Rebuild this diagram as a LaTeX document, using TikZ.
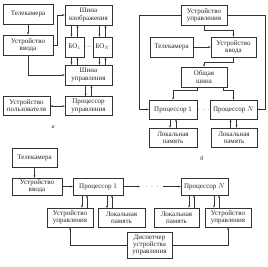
\documentclass[tikz,border=0pt]{standalone}
\usepackage{fontspec}
\setmainfont{Liberation Serif}
\usetikzlibrary{arrows.meta,calc}

\begin{document}
\begin{tikzpicture}[
  x=1.5pt, y=-1.5pt,
  font=\fontsize{10.5}{10.8}\selectfont,
  >={Stealth[length=3.8pt,width=2.8pt]},
  blk/.style={rectangle, draw=black!80, line width=0.7pt, align=center,
              inner sep=1pt, minimum height=30pt, text=black!85},
  lnk/.style={draw=black!80, line width=0.7pt},
  tag/.style={font=\fontsize{9}{10}\selectfont\itshape, text=black!85},
]
\useasboundingbox (0,0) rectangle (268,267);

% ===== Panel a =====
\node[blk, minimum width=75pt] (cam_a) at (28,14) {Телекамера};
\node[blk, minimum width=75pt] (in_a) at (28,45) {Устройство\\ввода};
\node[blk, minimum width=70.5pt] (busimg) at (88.5,15) {Шина\\изображения};
\node[blk, minimum width=28.5pt] (bo1) at (74.5,47) {БО$_1$};
\node[blk, minimum width=28.5pt] (boN) at (102.5,47) {БО$_N$};
\node (dots_a) at (88.5,47) {$\cdot\!\cdot\!\cdot$};
\node[blk, minimum width=70.5pt] (busctl) at (88.5,75) {Шина\\управления};
\node[blk, minimum width=70.5pt, minimum height=28.5pt] (procctl) at (88.5,106) {Процессор\\управления};
\node[blk, minimum width=70.5pt, minimum height=28.5pt] (user) at (26.5,106) {Устройство\\пользователя};
\node[tag] (tag_a) at (53,127) {а};

\draw[lnk,->] (cam_a) -- (in_a);
\draw[lnk,->] (in_a.east) -- ++(4,0) |- (busimg.west);
\draw[lnk,->] (in_a.south) |- (busctl.west);
\draw[lnk,<->] (user) -- (procctl);

% ===== Panel b =====
\node[blk, minimum width=69pt] (ctl_b) at (204,15) {Устройство\\управления};
\node[blk, minimum width=64.5pt] (cam_b) at (171.5,47) {Телекамера};
\node[blk, minimum width=67.5pt] (in_b) at (233.5,47) {Устройство\\ввода};
\node[blk, minimum width=69pt] (bus_b) at (204,77) {Общая\\шина};
\node[blk, minimum width=72pt, minimum height=28.5pt] (p1_b) at (173,109.5) {Процессор 1};
\node[blk, minimum width=70.5pt, minimum height=28.5pt] (pN_b) at (233.5,109.5) {Процессор $N$};
\node (dots_b) at (203.5,109.5) {$\cdot\,\cdot\,\cdot$};
\node[blk, minimum width=72pt, minimum height=28.5pt] (mem1_b) at (173,137.5) {Локальная\\память};
\node[blk, minimum width=69pt, minimum height=28.5pt] (memN_b) at (234,137.5) {Локальная\\память};
\node[tag] (tag_b) at (202,158) {б};

\draw[lnk,->] (ctl_b.south) -- ++(0,5) -| (in_b.north);
\draw[lnk,->] (cam_b.east) -- (in_b.west);
\draw[lnk,->] (in_b.south) -- ++(0,5) -| (bus_b.north);
\draw[lnk,->] ([xshift=-10.5pt]bus_b.south) -- ++(0,3) -| (p1_b.north);
\draw[lnk,->] ([xshift=28.5pt]bus_b.south) -- ++(0,3) -| (pN_b.north);
\draw[lnk,->] (ctl_b.west) -- ++(-42,0) |- (p1_b.west);
\draw[lnk,->] (ctl_b.east) -- ++(38,0) |- (pN_b.east);

% ===== Panel c =====
\node[blk, minimum width=67.5pt, minimum height=28.5pt] (cam_c) at (34.5,157.5) {Телекамера};
\node[blk, minimum width=75pt, minimum height=25.5pt] (in_c) at (37,186.5) {Устройство\\ввода};
\node[blk, minimum width=75pt, minimum height=25.5pt] (p1_c) at (98,186.5) {Процессор 1};
\node[blk, minimum width=70.5pt, minimum height=25.5pt] (pN_c) at (204.5,186.5) {Процессор $N$};
\coordinate (gap1) at (140,186.5);
\node (dots_c) at (152,186.5) {$\cdot\;\cdot\;\cdot$};
\coordinate (gap2) at (163,186.5);
\node[blk, minimum width=69pt, minimum height=28.5pt] (ctl1_c) at (70,217.5) {Устройство\\управления};
\node[blk, minimum width=70.5pt, minimum height=28.5pt] (mem1_c) at (121.5,218) {Локальная\\память};
\node[blk, minimum width=67.5pt, minimum height=28.5pt] (memN_c) at (176.5,217.5) {Локальная\\память};
\node[blk, minimum width=69pt, minimum height=28.5pt] (ctlN_c) at (228,217.5) {Устройство\\управления};
\node[blk, minimum width=67.5pt, minimum height=39pt] (disp) at (149.5,245) {Диспетчер\\устройства\\управления};

\draw[lnk,->] (cam_c.south) -- (cam_c.south |- in_c.north);
\draw[lnk,->] (in_c) -- (p1_c);
\draw[lnk,->] (p1_c) -- (gap1);
\draw[lnk,->] (gap2) -- (pN_c);
\draw[lnk,->] (disp.west) -| (ctl1_c.south);
\draw[lnk,->] (disp.east) -| (ctlN_c.south);

% paired up/down links
\foreach \src/\dst/\da/\ua in {busimg/bo1/-17/-11, busimg/boN/11/17,
    bo1/busctl/-3/3, boN/busctl/-3/3, busctl/procctl/-3/3,
    p1_b/mem1_b/-3/3, pN_b/memN_b/3/-3,
    p1_c/ctl1_c/-16/-11, p1_c/mem1_c/9/14, pN_c/memN_c/-15.5/-10.5, pN_c/ctlN_c/9.5/14.5}{
  \coordinate (dn) at ($(\src.south)+(\da,0)$);
  \coordinate (upp) at ($(\src.south)+(\ua,0)$);
  \draw[lnk,->] (dn) -- (dn |- \dst.north);
  \draw[lnk,->] (upp |- \dst.north) -- (upp);
}
\end{tikzpicture}
\end{document}
